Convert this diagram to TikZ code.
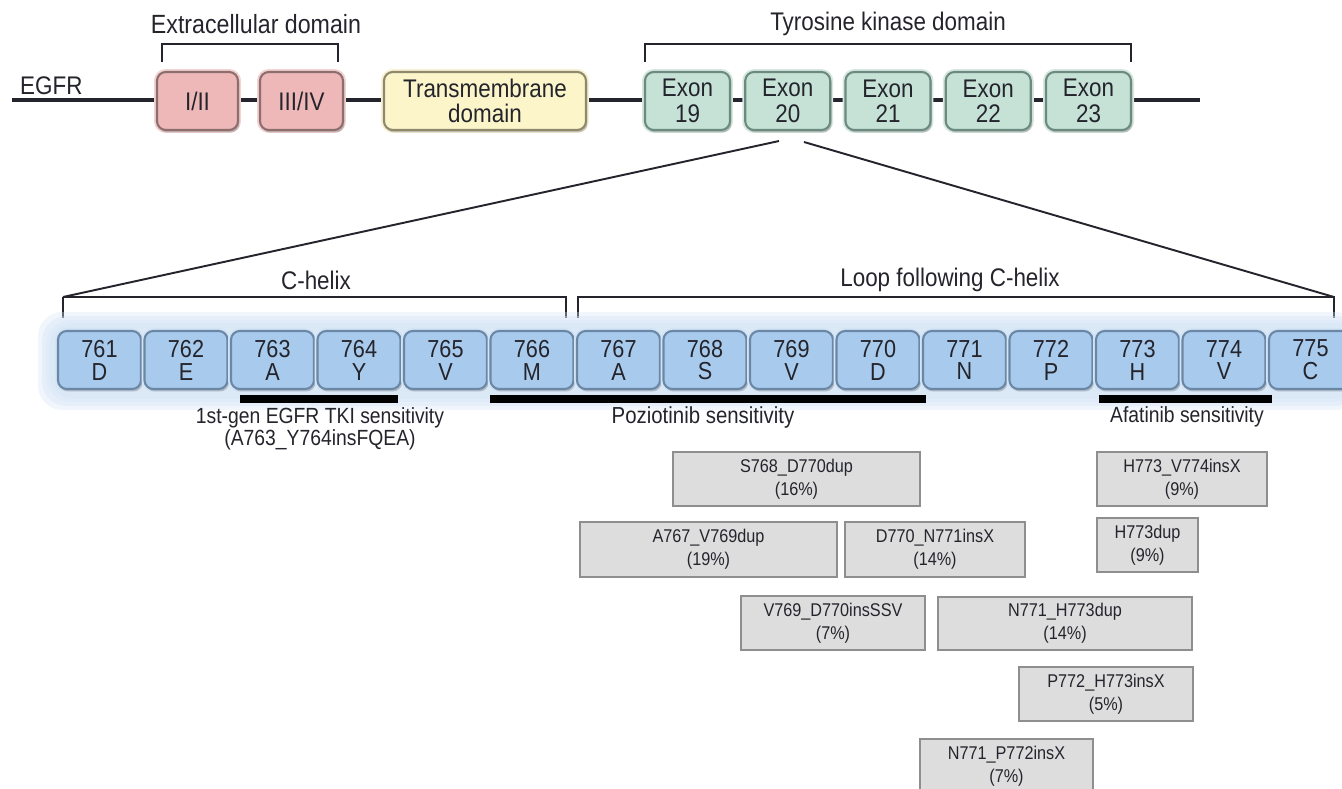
\documentclass[tikz,border=0pt]{standalone}
\usepackage{fontspec}
\setmainfont{Liberation Sans}[FakeStretch=0.88]
\usetikzlibrary{shadows}

\definecolor{ink}{HTML}{24242C}
\definecolor{pinkfill}{HTML}{EEB8B8}
\definecolor{pinkedge}{HTML}{8C6E6E}
\definecolor{pinkglow}{HTML}{F3D2D2}
\definecolor{yelfill}{HTML}{FBF5C9}
\definecolor{yeledge}{HTML}{8E896C}
\definecolor{yelglow}{HTML}{F8F1D6}
\definecolor{exfill}{HTML}{C6E2D6}
\definecolor{exedge}{HTML}{6C8A7F}
\definecolor{exglow}{HTML}{D6E8E0}
\definecolor{resfill}{HTML}{A8CAEC}
\definecolor{resedge}{HTML}{6B87A6}
\definecolor{resglow}{HTML}{D3E4F5}
\definecolor{mutfill}{HTML}{DDDDDD}
\definecolor{mutedge}{HTML}{8E8E8E}

\tikzset{
  wh/.style 2 args={minimum width=#1*0.02cm, minimum height=#2*0.02cm},
  dom/.style={draw=#1edge, fill=#1fill, rounded corners=5pt, line width=1.2pt,
    inner sep=0pt, align=center,
    preaction={draw=#1glow, line width=3.4pt},
    drop shadow={opacity=0.4, shadow xshift=0.8pt, shadow yshift=-1.4pt}},
  res/.style={dom=res, wh={83}{58}, font=\fontsize{14}{13}\selectfont},
  mut/.style={draw=mutedge, fill=mutfill, line width=1pt, inner sep=0pt, align=center,
    font=\fontsize{10.5}{13}\selectfont,
    drop shadow={opacity=0.15, shadow xshift=0.6pt, shadow yshift=-0.6pt}},
  brk/.style={line width=1.1pt, ink},
  bar/.style={line width=4.5pt, black},
  sens/.style={font=\fontsize{12.5}{11.5}\selectfont, align=center},
}

\begin{document}
\begin{tikzpicture}[x=0.02cm, y=-0.02cm]
    \useasboundingbox (0,0) rectangle (1342,788);
    \clip (0,0) rectangle (1342,788);
    \begin{scope}[text=ink, font=\fontsize{14.5}{14.5}\selectfont]
    % EGFR backbone and its domains:
    \coordinate (bb0) at (12,100);
    \coordinate (bb1) at (1200,100);
    \draw [line width=1.8pt, ink] (bb0) -- (bb1);
    \node [anchor=west] (egfr) at (14,86) {EGFR};

    \node [dom=pink, wh={81}{58}] (d12) at (197.5,101) {I/II};
    \node [dom=pink, wh={83}{58}] (d34) at (301.5,101) {III/IV};
    \node [dom=yel, wh={202}{58}] (tm) at (485,101) {Transmembrane\\domain};
    \foreach \n [count=\i from 0] in {19,...,23}
        \node [dom=ex, wh={85}{58}] (ex\n) at ({687.5+100.25*\i},101) {Exon\\\n};

    % brackets over the domains:
    \draw [brk] (162,62) |- (338,44) -- (338,62);
    \node (extra) at (256,24) {\fontsize{15}{15}\selectfont Extracellular domain};
    \draw [brk] (645,62) |- (1131,44) -- (1131,62);
    \node (tkd) at (888,24) {Tyrosine kinase domain};

    % zoom into exon 20:
    \coordinate (zl) at (779,141);
    \coordinate (zr) at (804,142);
    \coordinate (hl) at (63,297);
    \coordinate (hr) at (1334,297);
    \draw [brk] (zl) -- (hl);
    \draw [brk] (zr) -- (hr);

    \draw [brk] (hl) -- (63,318);
    \draw [brk] (hl) -| (566,318);
    \node (chx) at (316,280) {C-helix};
    \draw [brk] (578,318) |- (hr) -- (1334,318);
    \node (loop) at (950,280) {Loop following C-helix};

    % residues 761-775 on a soft glow:
    \foreach \g in {14,10,6,3}
        \fill [resglow, opacity=0.35, rounded corners=14pt] (52-\g,326-\g) rectangle (1360,396+\g);
    \foreach \n/\a [count=\i from 0] in {761/D,762/E,763/A,764/Y,765/V,766/M,767/A,768/S,
        769/V,770/D,771/N,772/P,773/H,774/V,775/C}
        \node [res] (r\n) at ({99.5+86.5*\i},360) {\n\\\a};

    % sensitivity bars:
    \draw [bar] (240,399) -- (398,399);
    \node [sens] (tki) at (320,429) {1st-gen EGFR TKI sensitivity\\(A763\_Y764insFQEA)};
    \draw [bar] (490,399) -- (926,399);
    \node [sens, font=\fontsize{13.2}{13}\selectfont] (pozi) at (703,417) {Poziotinib sensitivity};
    \draw [bar] (1099,399) -- (1272,399);
    \node [sens] (afa) at (1187,417) {Afatinib sensitivity};

    % insertion frequencies:
    \node [mut, wh={247}{54}] (m1) at (796.5,479) {S768\_D770dup\\(16\%)};
    \node [mut, wh={170}{54}] (m2) at (1182,479) {H773\_V774insX\\(9\%)};
    \node [mut, wh={257}{55}] (m3) at (708.5,549.5) {A767\_V769dup\\(19\%)};
    \node [mut, wh={180}{55}] (m4) at (935,549.5) {D770\_N771insX\\(14\%)};
    \node [mut, wh={101}{54}] (m5) at (1147.5,545) {H773dup\\(9\%)};
    \node [mut, wh={184}{54}] (m6) at (833,623) {V769\_D770insSSV\\(7\%)};
    \node [mut, wh={254}{53}] (m7) at (1065,623.5) {N771\_H773dup\\(14\%)};
    \node [mut, wh={174}{54}] (m8) at (1106,694) {P772\_H773insX\\(5\%)};
    \node [mut, wh={173}{54}] (m9) at (1006.5,766) {N771\_P772insX\\(7\%)};
    \end{scope}
\end{tikzpicture}
\end{document}
